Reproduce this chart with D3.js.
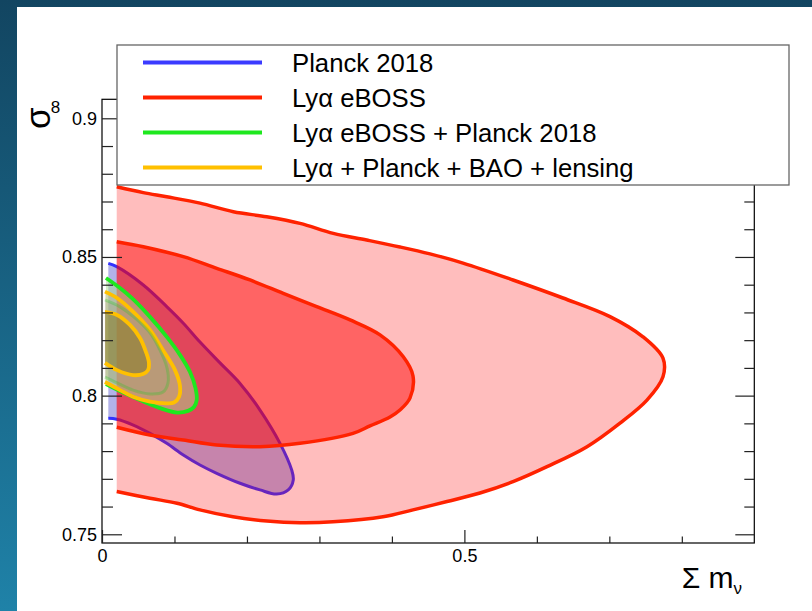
<!DOCTYPE html>
<html>
<head>
<meta charset="utf-8">
<script src="https://cdn.jsdelivr.net/npm/d3@7"></script>
<style>
  body { margin: 0; background: #fff; }
  svg { display: block; }
</style>
</head>
<body>
<svg id="chart" width="812" height="611"></svg>
<script>
// Axis ranges and ticks
const xDomain = [0, 0.9];
const yDomain = [0.74686, 0.90685];
const xMajorTicks = [0, 0.5];
const xMinorTicks = [0.1, 0.2, 0.3, 0.4, 0.6, 0.7, 0.8];
const yMajorTicks = [0.75, 0.8, 0.85, 0.9];
const yMinorTicks = [0.76, 0.77, 0.78, 0.79, 0.81, 0.82, 0.83, 0.84, 0.86, 0.87, 0.88, 0.89];

// Contours in (sum m_nu, sigma_8); each runs from the left edge round to the left edge
const planck95 = [
  [0.0087, 0.8477], [0.0203, 0.8465], [0.0570, 0.8399], [0.0893, 0.8321], [0.1122, 0.8261],
  [0.1352, 0.8193], [0.1628, 0.8118], [0.1904, 0.8044], [0.2180, 0.7948], [0.2456, 0.7828],
  [0.2617, 0.7732], [0.2639, 0.7696], [0.2570, 0.7660], [0.2410, 0.7645], [0.2180, 0.7660],
  [0.1904, 0.7684], [0.1583, 0.7720], [0.1352, 0.7750], [0.1122, 0.7786], [0.0893, 0.7828],
  [0.0662, 0.7864], [0.0432, 0.7894], [0.0203, 0.7915], [0.0087, 0.7918]
];
const lyaOuter = [
  [0.0203, 0.8753], [0.0570, 0.8732], [0.0893, 0.8717], [0.1352, 0.8694], [0.1812, 0.8663],
  [0.2272, 0.8645], [0.2732, 0.8621], [0.3191, 0.8585], [0.3652, 0.8561], [0.4111, 0.8536],
  [0.4525, 0.8511], [0.4981, 0.8478], [0.5671, 0.8417], [0.6360, 0.8352], [0.7009, 0.8285],
  [0.7464, 0.8212], [0.7740, 0.8135], [0.7740, 0.8068], [0.7519, 0.7984], [0.7147, 0.7901],
  [0.6692, 0.7816], [0.6140, 0.7744], [0.5671, 0.7690], [0.5215, 0.7649], [0.4760, 0.7618],
  [0.4291, 0.7588], [0.3877, 0.7563], [0.3187, 0.7545], [0.2732, 0.7542], [0.2276, 0.7548],
  [0.1807, 0.7563], [0.1352, 0.7588], [0.1035, 0.7612], [0.0662, 0.7630], [0.0203, 0.7654]
];
const lyaInner = [
  [0.0203, 0.8555], [0.0570, 0.8537], [0.1122, 0.8501], [0.1583, 0.8459], [0.2042, 0.8417],
  [0.2501, 0.8369], [0.2962, 0.8321], [0.3422, 0.8273], [0.3836, 0.8219], [0.4157, 0.8140],
  [0.4291, 0.8071], [0.4249, 0.7991], [0.4111, 0.7948], [0.3974, 0.7923], [0.3698, 0.7891],
  [0.3463, 0.7864], [0.2732, 0.7828], [0.2180, 0.7816], [0.1583, 0.7822], [0.1122, 0.7840],
  [0.0662, 0.7858], [0.0203, 0.7886]
];
const lyaPlanckOuter = [
  [0.0055, 0.8424], [0.0248, 0.8388], [0.0428, 0.8348], [0.0662, 0.8284], [0.0897, 0.8211],
  [0.1076, 0.8147], [0.1214, 0.8085], [0.1290, 0.8027], [0.1307, 0.7984], [0.1269, 0.7959],
  [0.1187, 0.7945], [0.1035, 0.7939], [0.0800, 0.7955], [0.0524, 0.7984], [0.0276, 0.8013],
  [0.0055, 0.8042]
];
const lyaPlanckInner = [
  [0.0041, 0.8345], [0.0248, 0.8320], [0.0455, 0.8280], [0.0662, 0.8226], [0.0800, 0.8164],
  [0.0897, 0.8100], [0.0911, 0.8046], [0.0842, 0.8013], [0.0662, 0.8006], [0.0428, 0.8020],
  [0.0207, 0.8046], [0.0041, 0.8067]
];
const combinedOuter = [
  [0.0041, 0.8375], [0.0207, 0.8352], [0.0428, 0.8303], [0.0662, 0.8237], [0.0842, 0.8164],
  [0.1007, 0.8092], [0.1076, 0.8035], [0.1062, 0.7995], [0.0993, 0.7975], [0.0897, 0.7972],
  [0.0662, 0.7978], [0.0428, 0.7996], [0.0248, 0.8020], [0.0041, 0.8049]
];
const combinedInner = [
  [0.0041, 0.8302], [0.0207, 0.8291], [0.0386, 0.8255], [0.0524, 0.8208], [0.0607, 0.8157],
  [0.0648, 0.8118], [0.0635, 0.8092], [0.0566, 0.8078], [0.0428, 0.8074], [0.0207, 0.8092],
  [0.0041, 0.8118]
];

// Legend entries
const legendLabels = ["Planck 2018", "Lyα eBOSS", "Lyα eBOSS + Planck 2018", "Lyα + Planck + BAO + lensing"];
const legendColors = ["#3b3bff", "#ff2200", "#1ee81e", "#ffc000"];

const svg = d3.select("#chart");
const defs = svg.append("defs");

// Slide background: dark gradient border with a white panel
const grad = defs.append("linearGradient").attr("id", "bg")
  .attr("x1", 0).attr("y1", 0).attr("x2", 0).attr("y2", 1);
grad.append("stop").attr("offset", 0).attr("stop-color", "#124561");
grad.append("stop").attr("offset", 1).attr("stop-color", "#1f82a8");
svg.append("rect").attr("width", 812).attr("height", 611).attr("fill", "url(#bg)");
svg.append("rect").attr("x", 17).attr("y", 7).attr("width", 795).attr("height", 604).attr("fill", "#fff");

const x = d3.scaleLinear().domain(xDomain).range([102, 754.3]);
const y = d3.scaleLinear().domain(yDomain).range([543, 99.3]);

defs.append("clipPath").attr("id", "frameClip").append("rect")
  .attr("x", x(xDomain[0])).attr("y", y(yDomain[1]))
  .attr("width", x(xDomain[1]) - x(xDomain[0])).attr("height", y(yDomain[0]) - y(yDomain[1]));

const plot = svg.append("g").attr("clip-path", "url(#frameClip)");
const curve = d3.line().x(d => x(d[0])).y(d => y(d[1])).curve(d3.curveCatmullRom.alpha(0.5));

function contour(pts, fill, stroke, width) {
  plot.append("path").attr("d", curve(pts) + "Z").attr("fill", fill).attr("stroke", "none");
  plot.append("path").attr("d", curve(pts)).attr("fill", "none")
    .attr("stroke", stroke).attr("stroke-width", width).attr("stroke-linejoin", "round");
}

// Planck first, the Lya contours drawn translucently over it
contour(planck95, "rgba(0,0,180,0.3)", "#3232ff", 3);
plot.append("path").attr("d", curve(lyaOuter) + "Z").attr("fill", "rgba(255,0,0,0.26)");
plot.append("path").attr("d", curve(lyaInner) + "Z").attr("fill", "rgba(255,0,0,0.47)");
plot.append("path").attr("d", curve(lyaOuter)).attr("fill", "none").attr("stroke", "#ff2200").attr("stroke-width", 3.5);
plot.append("path").attr("d", curve(lyaInner)).attr("fill", "none").attr("stroke", "#ff2200").attr("stroke-width", 3.5);

contour(lyaPlanckOuter, "rgba(168,220,144,0.5)", "#1ee81e", 3.8);
contour(combinedOuter, "rgba(200,170,120,0.3)", "#ffc000", 3.8);
contour(lyaPlanckInner, "rgba(150,160,130,0.25)", "rgba(40,200,40,0.3)", 3);
contour(combinedInner, "rgba(132,118,28,0.5)", "#ffc000", 3.8);

// Frame and axes
svg.append("rect")
  .attr("x", x(xDomain[0])).attr("y", y(yDomain[1]))
  .attr("width", x(xDomain[1]) - x(xDomain[0])).attr("height", y(yDomain[0]) - y(yDomain[1]))
  .attr("fill", "none").attr("stroke", "#000").attr("stroke-width", 1.2);

function ticksOnly(axis, tx, ty) {
  svg.append("g").attr("transform", `translate(${tx},${ty})`)
    .call(axis.tickFormat(""))
    .call(g => g.select(".domain").remove())
    .call(g => g.selectAll("line").attr("stroke", "#222").attr("stroke-width", 1.2));
}
const xl = x(xDomain[0]), xr = x(xDomain[1]), yb = y(yDomain[0]);
ticksOnly(d3.axisRight(y).tickValues(yMajorTicks).tickSize(20), xl, 0);
ticksOnly(d3.axisRight(y).tickValues(yMinorTicks).tickSize(11), xl, 0);
ticksOnly(d3.axisLeft(y).tickValues(yMajorTicks).tickSize(19), xr, 0);
ticksOnly(d3.axisLeft(y).tickValues(yMinorTicks).tickSize(10), xr, 0);
ticksOnly(d3.axisTop(x).tickValues(xMajorTicks).tickSize(13), 0, yb);
ticksOnly(d3.axisTop(x).tickValues(xMinorTicks).tickSize(6.5), 0, yb);

const fontFam = "'Liberation Sans', Arial, Helvetica, sans-serif";
svg.append("g").attr("transform", `translate(${xl},0)`)
  .call(d3.axisLeft(y).tickValues(yMajorTicks).tickSize(0).tickPadding(5).tickFormat(d3.format("")))
  .call(g => g.select(".domain").remove())
  .call(g => g.selectAll("text").attr("font-family", fontFam).attr("font-size", 18).attr("fill", "#000"));
svg.append("g").attr("transform", `translate(0,${yb})`)
  .call(d3.axisBottom(x).tickValues(xMajorTicks).tickSize(0).tickPadding(6).tickFormat(d3.format("")))
  .call(g => g.select(".domain").remove())
  .call(g => g.selectAll("text").attr("font-family", fontFam).attr("font-size", 18).attr("fill", "#000"));

// Axis titles
const xt = svg.append("text").attr("x", 742).attr("y", 588).attr("text-anchor", "end")
  .attr("font-family", fontFam).attr("fill", "#000");
xt.append("tspan").attr("font-size", 30).text("Σ m");
xt.append("tspan").attr("font-size", 17).attr("dy", 6).text("ν");

// sigma rotated along the axis, its subscript 8 kept upright beside it
svg.append("text").attr("transform", "translate(50,129) rotate(-90)")
  .attr("font-family", fontFam).attr("font-size", 35).attr("fill", "#000").text("σ");
svg.append("text").attr("x", 55.5).attr("y", 112.5).attr("text-anchor", "middle")
  .attr("font-family", fontFam).attr("font-size", 17).attr("fill", "#000").text("8");

// Legend
const lg = svg.append("g");
lg.append("rect").attr("x", 117).attr("y", 45).attr("width", 672).attr("height", 140)
  .attr("fill", "#fff").attr("stroke", "#666").attr("stroke-width", 1.3);
legendLabels.forEach((lab, i) => {
  const cy = 62.5 + i * 35;
  lg.append("line").attr("x1", 143).attr("x2", 262).attr("y1", cy).attr("y2", cy)
    .attr("stroke", legendColors[i]).attr("stroke-width", 4);
  lg.append("text").attr("x", 292).attr("y", cy + 9).attr("font-family", fontFam)
    .attr("font-size", 25.7).attr("fill", "#000").text(lab);
});
</script>
</body>
</html>
